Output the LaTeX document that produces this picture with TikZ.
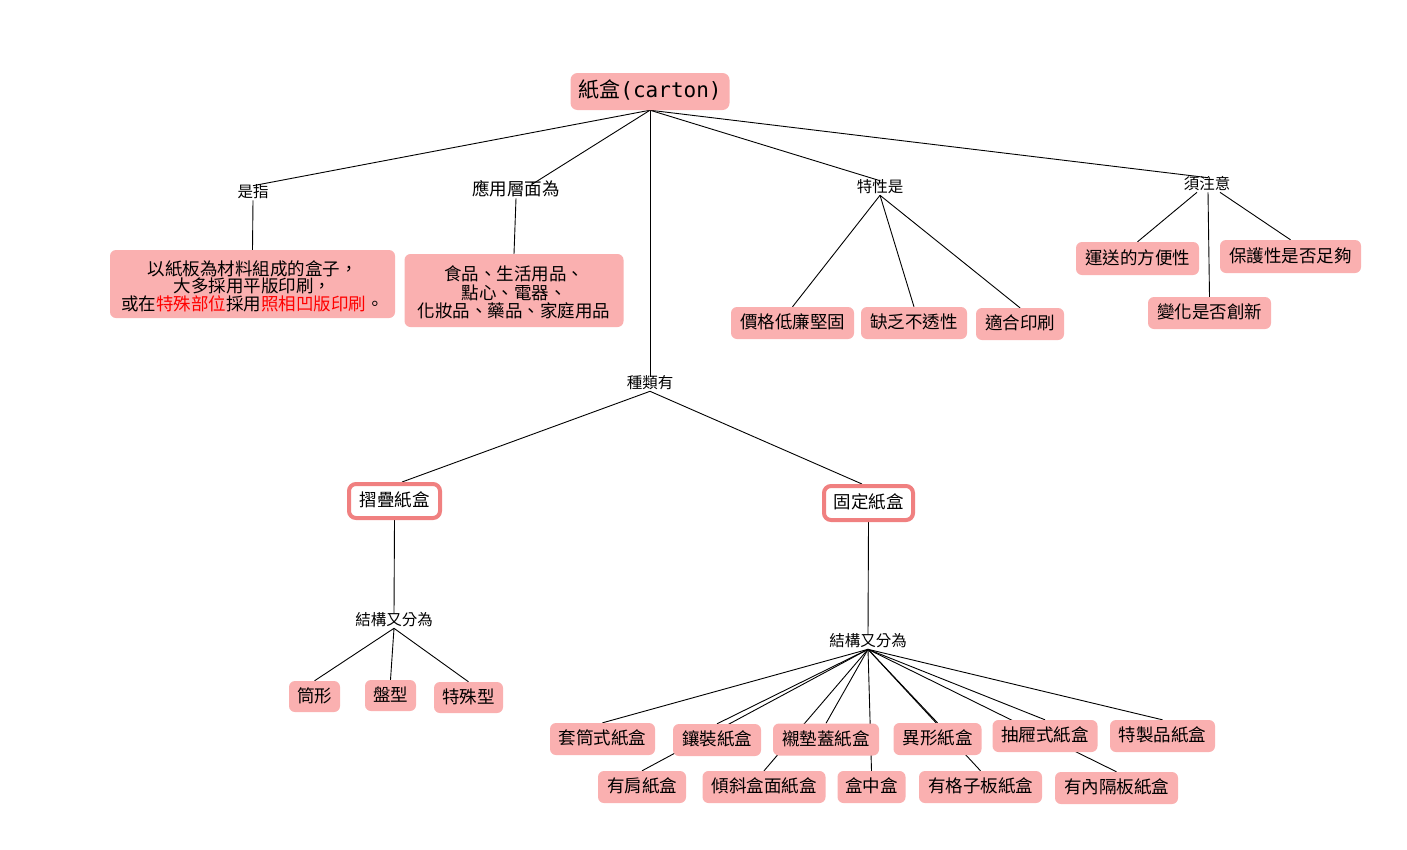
\documentclass[tikz,border=0pt]{standalone}
\usepackage{fontspec}
\setmainfont{Noto Sans CJK TC}
\newfontfamily\monofont{DejaVu Sans Mono}
\usetikzlibrary{backgrounds}
\definecolor{boxpink}{HTML}{FAB0B0}
\definecolor{framecol}{HTML}{F08080}
\definecolor{hilite}{HTML}{FF0000}
\tikzset{
  rootbox/.style={fill=boxpink, rounded corners=7pt, inner sep=0pt, minimum width=159pt, minimum height=37pt, font=\fontsize{21}{25}\selectfont, text height=1.2em, text depth=0em},
  leafbox/.style={fill=boxpink, rounded corners=6pt, inner sep=0pt, font=\fontsize{17.5}{21}\selectfont, text height=1.18em, text depth=0em, minimum height=32pt},
  multibox/.style={fill=boxpink, rounded corners=6pt, inner sep=0pt},
  multitext/.style={inner sep=0pt, align=center},
  kindbox/.style={draw=framecol, line width=4pt, fill=white, rounded corners=7pt, inner sep=0pt, font=\fontsize{17.5}{21}\selectfont, text height=1.18em, text depth=0em, minimum height=34pt},
  lbltext/.style={inner xsep=0pt, inner ysep=1.5pt, font=\fontsize{15.5}{18}\selectfont, text height=1.0em, text depth=0.12em},
  conn/.style={draw=black, line width=0.9pt},
}
\begin{document}
\begin{tikzpicture}[x=1pt,y=-1pt]
\useasboundingbox (0,0) rectangle (1407,849);
% root
\node[rootbox] (root) at (650,91.5) {紙盒{\monofont(carton)}};
% first-level labels
\node[lbltext] (shi) at (253,193) {是指};
\node[lbltext, font=\fontsize{17.5}{20}\selectfont] (app) at (516,191) {應用層面為};
\node[lbltext] (kind) at (650,384) {種類有};
\node[lbltext] (prop) at (880,188) {特性是};
\node[lbltext] (note) at (1207,185) {須注意};
% definition and application
\node[multibox, minimum width=285pt, minimum height=68pt] (def) at (252.5,284) {};
\node[multitext, font=\fontsize{17.5}{17.5}\selectfont] (deftext) at ([yshift=-2pt]def.center)
  {以紙板為材料組成的盒子，\\大多採用平版印刷，\\或在\textcolor{hilite}{特殊部位}採用\textcolor{hilite}{照相凹版印刷}。};
\node[multibox, minimum width=219pt, minimum height=73pt] (use) at (514,290.5) {};
\node[multitext, font=\fontsize{17.5}{18.5}\selectfont] (usetext) at ([yshift=-2pt]use.center)
  {食品、生活用品、\\點心、電器、\\化妝品、藥品、家庭用品};
% properties
\node[leafbox, minimum width=123pt] (p1) at (792.5,323) {價格低廉堅固};
\node[leafbox, minimum width=106pt] (p2) at (914,323) {缺乏不透性};
\node[leafbox, minimum width=88pt] (p3) at (1020,324) {適合印刷};
% notes
\node[leafbox, minimum width=123pt, minimum height=33pt] (ship) at (1137.5,258.5) {運送的方便性};
\node[leafbox, minimum width=123pt] (chg) at (1209.5,313) {變化是否創新};
\node[leafbox, minimum width=141pt, minimum height=33pt] (prot) at (1290.5,256.5) {保護性是否足夠};
% kinds
\node[kindbox, minimum width=91pt] (fold) at (394.5,501) {摺疊紙盒};
\node[kindbox, minimum width=89pt] (fixed) at (868.5,503) {固定紙盒};
\node[lbltext] (s1) at (394,621) {結構又分為};
\node[lbltext] (s2) at (868,642) {結構又分為};
% folding sub-types
\node[leafbox, minimum width=51pt, minimum height=31pt] (f1) at (314.5,696.5) {筒形};
\node[leafbox, minimum width=51pt, minimum height=31pt] (f2) at (390.5,695.5) {盤型};
\node[leafbox, minimum width=69pt, minimum height=31pt] (f3) at (468.5,697.5) {特殊型};
% fixed sub-types, upper row
\node[leafbox, minimum width=105pt] (g1) at (602.5,739) {套筒式紙盒};
\node[leafbox, minimum width=88pt] (g2) at (717,740) {鑲裝紙盒};
\node[leafbox, minimum width=106pt] (g3) at (826,739.5) {襯墊蓋紙盒};
\node[leafbox, minimum width=88pt] (g4) at (937.5,739) {異形紙盒};
\node[leafbox, minimum width=105pt] (g5) at (1045,736) {抽屜式紙盒};
\node[leafbox, minimum width=105pt] (g6) at (1162.5,736) {特製品紙盒};
% fixed sub-types, lower row
\node[leafbox, minimum width=88pt] (h1) at (642,787) {有肩紙盒};
\node[leafbox, minimum width=123pt] (h2) at (764,787) {傾斜盒面紙盒};
\node[leafbox, minimum width=68pt] (h3) at (871.5,787) {盒中盒};
\node[leafbox, minimum width=123pt] (h4) at (980.5,787) {有格子板紙盒};
\node[leafbox, minimum width=123pt] (h5) at (1116.5,788) {有內隔板紙盒};
% connectors
\begin{scope}[on background layer]
  \fill[white] (0,0) rectangle (1407,849);
  \draw[conn] (root.south) -- (shi.north);
  \draw[conn] (root.south) -- ([xshift=17pt]app.north);
  \draw[conn] (root.south) -- (kind.north);
  \draw[conn] (root.south) -- (prop.north);
  \draw[conn] (root.south) -- ([xshift=1pt]note.north);
  \draw[conn] (shi.south) -- (def.north);
  \draw[conn] (app.south) -- (use.north);
  \draw[conn] (prop.south) -- (p1.north);
  \draw[conn] (prop.south) -- (p2.north);
  \draw[conn] (prop.south) -- (p3.north);
  \draw[conn] ([xshift=-10pt]note.south) -- (ship.north);
  \draw[conn] ([xshift=1pt]note.south) -- (chg.north);
  \draw[conn] ([xshift=13pt]note.south) -- (prot.north);
  \draw[conn] (kind.south) -- ([xshift=7.5pt]fold.north);
  \draw[conn] (kind.south) -- ([xshift=-6.5pt]fixed.north);
  \draw[conn] (fold.south) -- (s1.north);
  \draw[conn] (fixed.south) -- (s2.north);
  \foreach \t in {f1,f2,f3} \draw[conn] (s1.south) -- (\t.north);
  \foreach \t in {g1,g2,g3,g4,g5,g6,h1,h2,h3,h4,h5} \draw[conn] (s2.south) -- (\t.north);
\end{scope}
\end{tikzpicture}
\end{document}
